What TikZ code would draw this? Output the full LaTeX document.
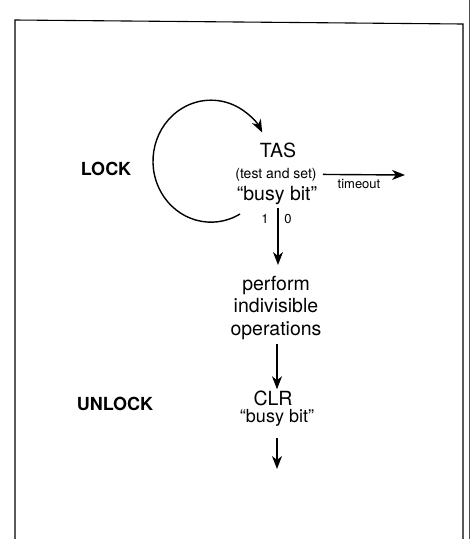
\documentclass[tikz,border=0pt]{standalone}
\usepackage{fontspec}
\setmainfont{TeX Gyre Heros}
\usetikzlibrary{arrows.meta}
\begin{document}
\begin{tikzpicture}[x=1pt,y=-1pt,
  txt/.style={inner sep=0pt, anchor=base, font=\fontsize{19.5}{22}\selectfont},
  small/.style={inner sep=0pt, anchor=base, font=\fontsize{14}{16}\selectfont},
  tiny/.style={inner sep=0pt, anchor=base, font=\fontsize{13}{14}\selectfont},
  side/.style={inner sep=0pt, anchor=base, font=\fontsize{18}{20}\selectfont\bfseries},
  arr/.style={line width=1.4pt, -{Stealth[length=13pt,width=10pt,inset=4pt]}},
  frame/.style={line width=1.1pt}]
\useasboundingbox (0,0) rectangle (471,539);
% frame
\coordinate (f1) at (15,539);
\coordinate (f2) at (15,20);
\coordinate (f3) at (463,24);
\coordinate (f4) at (463,539);
\draw[frame] (f1) -- (f2) -- (f3) -- (f4);
\coordinate (g1) at (469.5,0);
\coordinate (g2) at (469.5,539);
\draw[line width=0.8pt, black!70] (g1) -- (g2);
% texts
\node[txt] (tas) at (278,157) {TAS};
\node[small] (tasdesc) at (276,178) {(test and set)};
\node[txt] (busy) at (277,200) {“busy bit”};
\node[tiny] (one) at (265,223) {1};
\node[tiny] (zero) at (288,223) {0};
\node[tiny] (tlabel) at (359,188) {timeout};
\node[txt, anchor=north, align=center, font=\fontsize{19.5}{22.5}\selectfont] (perform) at (276,276) {perform\\indivisible\\operations};
\node[txt] (clr) at (273,405) {CLR};
\node[txt, font=\fontsize{18}{20}\selectfont] (clrbusy) at (277,422) {“busy bit”};
\node[side] (lock) at (106,175) {LOCK};
\node[side] (unlock) at (115,410) {UNLOCK};
\coordinate (tout) at (405,175);
\coordinate (exit) at (277,469);
% connectors
\draw[arr] (240,214) arc[start angle=60, end angle=332, x radius=58, y radius=61];
\draw[arr, shorten <=4pt, shorten >=11pt] (busy.south -| 278,0) -- (perform.north -| 278,0);
\draw[arr, shorten <=6pt] (tasdesc.east) -- (tout);
\draw[arr, shorten <=4pt, shorten >=1pt] (perform.south -| 277,0) -- (clr.north -| 277,0);
\draw[arr, shorten <=12pt] (clrbusy.south -| 277,0) -- (exit);
\end{tikzpicture}
\end{document}
